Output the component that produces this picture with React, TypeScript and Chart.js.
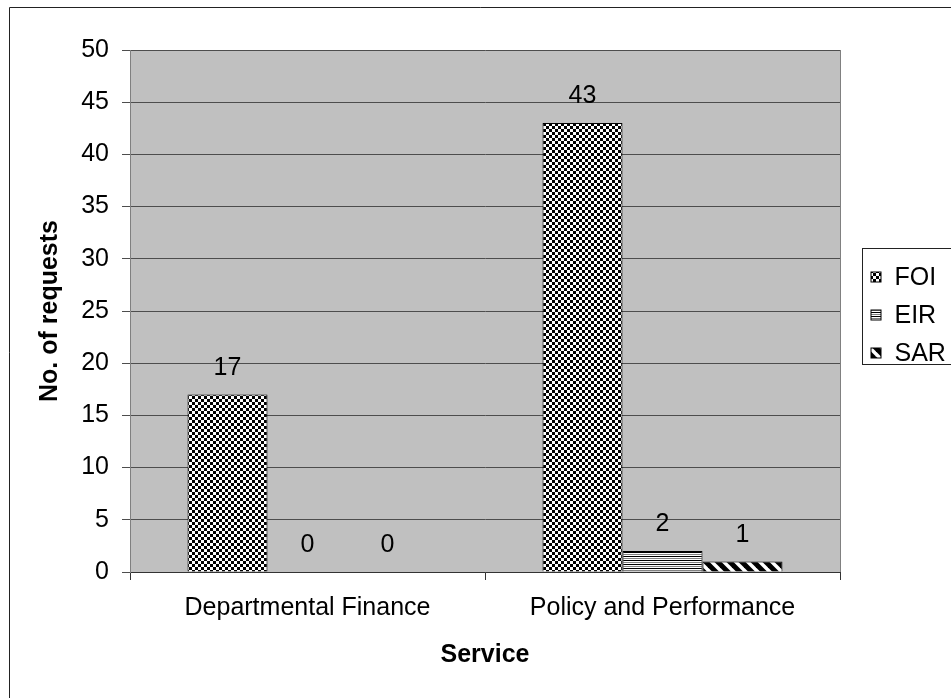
import React, { useEffect, useRef } from "react";
import { Chart, registerables } from "chart.js";

Chart.register(...registerables);

// Requests received per service, split by request type
const categories = ["Departmental Finance", "Policy and Performance"];
const seriesNames = ["FOI", "EIR", "SAR"];
const foiValues = [17, 43];
const eirValues = [0, 2];
const sarValues = [0, 1];
const yMin = 0;
const yMax = 50;
const yStep = 5;
const yAxisTitle = "No. of requests";
const xAxisTitle = "Service";

const FONT = '"Liberation Sans", Arial, sans-serif';
const FONT_SIZE = 25;

function makeTile(w: number, h: number, draw: (g: CanvasRenderingContext2D) => void) {
  const c = document.createElement("canvas");
  c.width = w;
  c.height = h;
  const g = c.getContext("2d")!;
  draw(g);
  return c;
}

function makePatterns(ctx: CanvasRenderingContext2D) {
  // small checkerboard
  const checker = makeTile(6, 6, (g) => {
    g.fillStyle = "#fff";
    g.fillRect(0, 0, 6, 6);
    g.fillStyle = "#000";
    g.fillRect(0, 0, 3, 3);
    g.fillRect(3, 3, 3, 3);
  });
  // horizontal lines
  const horizontal = makeTile(4, 4, (g) => {
    g.fillStyle = "#fff";
    g.fillRect(0, 0, 4, 4);
    g.fillStyle = "#000";
    g.fillRect(0, 0, 4, 1);
    g.fillStyle = "#808080";
    g.fillRect(0, 2, 4, 1);
  });
  // wide downward diagonal
  const diagonal = makeTile(12, 12, (g) => {
    g.fillStyle = "#fff";
    g.fillRect(0, 0, 12, 12);
    g.strokeStyle = "#000";
    g.lineWidth = 5;
    for (let k = -1; k <= 1; k++) {
      g.beginPath();
      g.moveTo(k * 12 - 2, -2);
      g.lineTo(k * 12 + 14, 14);
      g.stroke();
    }
  });
  return [checker, horizontal, diagonal].map((t) => ctx.createPattern(t, "repeat")!);
}

const frameAndBackground = {
  id: "frameAndBackground",
  beforeDraw(chart: any) {
    const { ctx, chartArea, width, height } = chart;
    ctx.save();
    ctx.fillStyle = "#fff";
    ctx.fillRect(0, 0, width, height);
    ctx.fillStyle = "#C0C0C0";
    ctx.fillRect(chartArea.left, chartArea.top, chartArea.right - chartArea.left, chartArea.bottom - chartArea.top);
    ctx.strokeStyle = "#222";
    ctx.lineWidth = 1;
    ctx.beginPath();
    ctx.moveTo(9.5, height);
    ctx.lineTo(9.5, 7.5);
    ctx.lineTo(width, 7.5);
    ctx.stroke();
    ctx.restore();
  },
  afterDraw(chart: any) {
    const { ctx, chartArea } = chart;
    ctx.save();
    ctx.strokeStyle = "#808080";
    ctx.lineWidth = 1;
    ctx.beginPath();
    ctx.moveTo(Math.round(chartArea.right) + 0.5, chartArea.top);
    ctx.lineTo(Math.round(chartArea.right) + 0.5, chartArea.bottom);
    ctx.stroke();
    ctx.restore();
  },
};

const valueLabels = {
  id: "valueLabels",
  afterDatasetsDraw(chart: any) {
    const { ctx } = chart;
    ctx.save();
    ctx.font = `${FONT_SIZE}px ${FONT}`;
    ctx.fillStyle = "#000";
    ctx.textAlign = "center";
    ctx.textBaseline = "alphabetic";
    chart.data.datasets.forEach((ds: any, i: number) => {
      const meta = chart.getDatasetMeta(i);
      meta.data.forEach((el: any, j: number) => {
        ctx.fillText(String(ds.data[j]), el.x, el.y - 20);
      });
    });
    ctx.restore();
  },
};

const boxLegend = {
  id: "boxLegend",
  afterDraw(chart: any) {
    const { ctx, chartArea, width } = chart;
    const left = Math.round(chartArea.right) + 22.5;
    const top = 248.5;
    const rowGap = 38;
    const n = chart.data.datasets.length;
    ctx.save();
    ctx.strokeStyle = "#222";
    ctx.lineWidth = 1;
    ctx.strokeRect(left, top, width - left + 10, rowGap * n + 2);
    ctx.font = `${FONT_SIZE}px ${FONT}`;
    ctx.textBaseline = "middle";
    ctx.textAlign = "left";
    chart.data.datasets.forEach((ds: any, i: number) => {
      const cy = 277 + i * rowGap;
      const mx = left + 8.5;
      ctx.fillStyle = ds.backgroundColor;
      ctx.fillRect(mx, cy - 5, 10, 10);
      ctx.strokeStyle = "#000";
      ctx.strokeRect(mx, cy - 5, 10, 10);
      ctx.fillStyle = "#000";
      ctx.fillText(ds.label, left + 32, cy + 1);
    });
    ctx.restore();
  },
};

export default function App() {
  const ref = useRef<HTMLCanvasElement | null>(null);

  useEffect(() => {
    const canvas = ref.current!;
    const ctx = canvas.getContext("2d")!;
    const patterns = makePatterns(ctx);
    const values = [foiValues, eirValues, sarValues];

    const chart = new Chart(ctx, {
      type: "bar",
      data: {
        labels: categories,
        datasets: seriesNames.map((name, i) => ({
          label: name,
          data: values[i],
          backgroundColor: patterns[i] as any,
          borderColor: "#000",
          borderWidth: 1,
          categoryPercentage: 0.676,
          barPercentage: 1,
        })),
      },
      options: {
        animation: false,
        responsive: false,
        devicePixelRatio: 1,
        layout: { padding: { left: 0, top: 50, right: 111, bottom: 0 } },
        plugins: {
          legend: { display: false },
          tooltip: { enabled: false },
        },
        scales: {
          x: {
            z: 1,
            offset: true,
            grid: {
              display: true,
              drawOnChartArea: false,
              drawTicks: true,
              tickLength: 8,
              offset: true,
              color: "#333",
            },
            border: { display: true, color: "#333", width: 1 },
            ticks: {
              color: "#000",
              padding: 13,
              font: { family: FONT, size: FONT_SIZE },
              maxRotation: 0,
              autoSkip: false,
            },
            title: {
              display: true,
              text: xAxisTitle,
              color: "#000",
              font: { family: FONT, size: FONT_SIZE, weight: "bold" },
              padding: { top: 0, bottom: 28 },
            },
            afterFit: (scale: any) => {
              scale.height = 126;
            },
          },
          y: {
            min: yMin,
            max: yMax,
            grid: {
              color: "#4d4d4d",
              drawTicks: true,
              tickLength: 8,
              tickColor: "#4d4d4d",
            },
            border: { display: true, color: "#808080", width: 1 },
            ticks: {
              stepSize: yStep,
              color: "#000",
              padding: 13,
              font: { family: FONT, size: FONT_SIZE },
            },
            title: {
              display: true,
              text: yAxisTitle,
              color: "#000",
              font: { family: FONT, size: FONT_SIZE, weight: "bold" },
              padding: { top: 35, bottom: 0 },
            },
            afterFit: (scale: any) => {
              scale.width = 130;
            },
          },
        },
      },
      plugins: [frameAndBackground, valueLabels, boxLegend],
    });

    return () => chart.destroy();
  }, []);

  return (
    <canvas
      ref={ref}
      width={951}
      height={698}
      style={{ position: "absolute", left: 0, top: 0, display: "block" }}
    />
  );
}
